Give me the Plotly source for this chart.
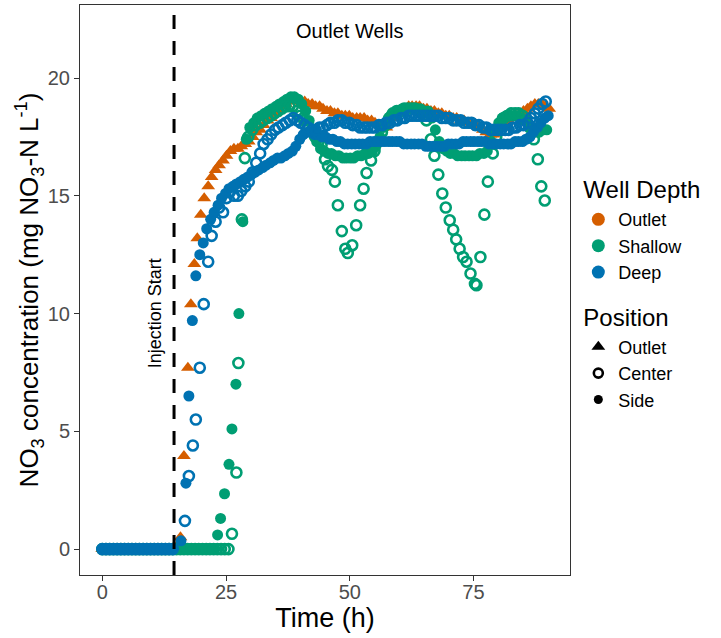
import plotly.graph_objects as go

# ---------------- data ----------------
PRE_T = [0, 0.75, 1.5, 2.25, 3, 3.75, 4.5, 5.25, 6, 6.75,
         7.5, 8.25, 9, 9.75, 10.5, 11.25, 12, 12.75, 13.5, 14.25]
PRE_Y = [0, 0, 0, 0, 0, 0, 0, 0, 0, 0,
         0, 0, 0, 0, 0, 0, 0, 0, 0, 0]
LAG1_T = [15, 15.75, 16.5, 17.25, 18, 18.75, 19.5, 20.25, 21, 21.75, 22.5]
LAG1_Y = [0, 0, 0, 0, 0, 0, 0, 0, 0, 0, 0]
LAG2_T = [23.25, 24, 24.75, 25.5]
LAG2_Y = [0, 0, 0, 0]

# Outlet depth / Outlet position (triangles)
OUTLET_T = [15.0, 15.8, 16.5, 17.3, 17.9, 18.6, 19.2, 19.9,
            20.6, 21.4, 22.1, 22.9, 23.6, 24.4, 25.1, 25.9, 26.6, 27.4,
            28.1, 28.9, 29.6, 30.4, 31.1, 31.9, 32.6, 33.4, 34.1, 34.9,
            35.6, 36.4, 37.1, 37.9, 38.6, 39.4, 40.1, 40.9, 41.6, 42.4,
            43.1, 43.9, 44.6, 45.4, 46.1, 46.9, 47.6, 48.4, 49.1, 49.9,
            50.6, 51.4, 52.1, 52.9, 53.6, 54.4, 55.1, 55.9, 56.6, 57.4,
            58.1, 58.9, 59.6, 60.4, 61.1, 61.9, 62.6, 63.4, 64.1, 64.9,
            65.6, 66.4, 67.1, 67.9, 68.6, 69.4, 70.1, 70.9, 71.6, 72.4,
            73.1, 73.9, 74.6, 75.4, 76.1, 76.9, 77.6, 78.4, 79.1, 79.9,
            80.6, 81.4, 82.1, 82.9, 83.6, 84.4, 85.1, 85.9, 86.6, 87.4,
            88.1, 88.9, 89.6, 90.3]
OUTLET_Y = [0.1, 0.5, 3.95, 7.7, 10.4, 12.1, 13.2, 14.2,
            14.9, 15.4, 15.8, 16.1, 16.3, 16.5, 16.7, 16.9, 17.0, 17.0,
            17.1, 17.2, 17.3, 17.5, 17.7, 17.8, 18.0, 18.2, 18.3, 18.5,
            18.6, 18.8, 18.9, 19.0, 19.1, 19.1, 19.0, 19.0, 18.9, 18.9,
            18.8, 18.8, 18.7, 18.6, 18.6, 18.5, 18.5, 18.4, 18.4, 18.4,
            18.3, 18.3, 18.3, 18.3, 18.2, 18.2, 18.1, 18.0, 17.9, 17.9,
            18.1, 18.3, 18.5, 18.6, 18.7, 18.8, 18.8, 18.8, 18.8, 18.7,
            18.7, 18.6, 18.6, 18.5, 18.5, 18.4, 18.4, 18.3, 18.3, 18.2,
            18.2, 18.1, 18.0, 18.0, 17.9, 17.8, 17.7, 17.6, 17.6, 17.7,
            17.9, 18.0, 18.2, 18.3, 18.4, 18.5, 18.6, 18.7, 18.8, 18.9,
            18.9, 18.9, 18.8, 18.7]

# Shallow depth / Side position (filled circles)
SHALLOW_SIDE_T = [23.3, 23.9, 24.7, 25.6, 26.2, 27.0, 27.6, 28.4, 29.1, 29.8,
                  30.6, 31.3, 32.1, 32.8, 33.6, 34.3, 35.1, 35.8, 36.6, 37.3,
                  38.1, 38.8, 39.6, 40.3, 41.1, 41.8, 42.6, 43.3, 44.1, 44.8,
                  45.6, 46.3, 47.1, 47.8, 48.6, 49.3, 50.1, 50.8, 51.6, 52.3,
                  53.1, 53.8, 54.6, 55.3, 56.1, 56.8, 57.6, 58.3, 59.1, 59.8,
                  60.6, 61.3, 62.1, 62.8, 63.6, 64.3, 65.1, 65.8, 66.6, 67.3,
                  68.1, 68.8, 69.6, 70.3, 71.1, 71.8, 72.6, 73.3, 74.1, 74.8,
                  75.6, 76.3, 77.1, 77.8, 78.6, 79.3, 80.1, 80.8, 81.6, 82.3,
                  83.1, 83.8, 84.6, 85.3, 86.1, 86.8, 87.6, 88.3, 89.1, 89.8]
SHALLOW_SIDE_Y = [0.6, 1.3, 2.35, 3.6, 5.1, 7.0, 10.0, 13.9, 17.4, 17.9,
                  18.1, 18.3, 18.4, 18.5, 18.6, 18.7, 18.8, 18.9, 19.0, 19.1,
                  19.2, 19.2, 19.1, 18.9, 18.6, 18.2, 17.7, 17.3, 17.0, 16.9,
                  16.8, 16.8, 16.7, 16.7, 16.6, 16.6, 16.6, 16.6, 16.7, 16.7,
                  16.8, 16.8, 16.9, 17.1, 17.5, 17.9, 18.2, 18.4, 18.5, 18.6,
                  18.7, 18.7, 18.7, 18.7, 18.7, 18.7, 18.6, 18.6, 18.3, 17.8,
                  17.3, 17.0, 16.9, 16.8, 16.8, 16.7, 16.7, 16.7, 16.7, 16.7,
                  16.7, 16.8, 16.8, 16.9, 17.3, 17.8, 18.1, 18.3, 18.4, 18.4,
                  18.4, 18.4, 18.3, 18.2, 18.0, 17.8, 17.7, 17.7, 17.8, 17.8]

# Shallow depth / Center position (open circles)
SHALLOW_CENTER_T = [26.2, 27.1, 27.5, 28.2, 28.8, 29.5, 30.3, 31.0, 31.8, 32.5,
                    33.3, 34.0, 34.8, 35.5, 36.3, 37.0, 37.8, 38.5, 39.3, 40.0,
                    40.8, 41.5, 42.3, 43.0, 43.7, 44.3, 45.0, 45.6, 46.4, 47.0,
                    47.6, 48.4, 49.1, 49.6, 50.5, 51.3, 52.1, 52.8, 53.4, 54.3,
                    55.0, 55.7, 56.5, 57.2, 58.0, 58.7, 59.5, 60.2, 61.0, 61.7,
                    62.5, 63.2, 64.0, 64.7, 65.5, 66.4, 67.1, 67.9, 68.7, 69.4,
                    70.2, 70.9, 71.5, 72.2, 72.9, 73.6, 74.4, 75.3, 75.6, 76.4,
                    77.2, 77.9, 78.9, 79.6, 80.4, 81.1, 81.9, 82.6, 83.4, 84.1,
                    84.9, 85.6, 86.4, 87.2, 88.0, 88.7, 89.4]
SHALLOW_CENTER_Y = [0.65, 3.25, 7.9, 14.0, 16.6, 17.5, 17.8, 18.0, 18.1, 18.2,
                    18.3, 18.4, 18.5, 18.6, 18.7, 18.8, 18.8, 18.8, 18.6, 18.4,
                    18.2, 18.0, 17.8, 17.5, 17.3, 17.15, 16.55, 16.26, 16.1, 15.6,
                    14.6, 13.5, 12.75, 12.57, 12.9, 13.75, 14.6, 15.3, 15.97, 16.5,
                    16.9, 17.3, 17.7, 18.0, 18.3, 18.5, 18.6, 18.6, 18.7, 18.7,
                    18.7, 18.7, 18.6, 18.5, 18.2, 17.4, 16.7, 15.9, 15.1, 14.5,
                    13.96, 13.56, 13.15, 12.75, 12.4, 12.2, 11.7, 11.26, 11.2, 12.4,
                    14.2, 15.6, 16.8, 17.5, 18.0, 18.3, 18.4, 18.5, 18.5, 18.5,
                    18.4, 18.2, 17.9, 17.4, 16.55, 15.4, 14.8]

# Deep depth / Side position (filled circles)
DEEP_SIDE_T = [15.9, 16.9, 17.5, 18.2, 18.9, 19.7, 20.4, 21.1, 21.9, 22.6,
               23.4, 24.1, 24.9, 25.6, 26.4, 27.1, 27.9, 28.6, 29.4, 30.1,
               30.9, 31.6, 32.4, 33.1, 33.9, 34.6, 35.4, 36.1, 36.9, 37.6,
               38.4, 39.1, 39.9, 40.6, 41.4, 42.1, 42.9, 43.6, 44.4, 45.1,
               45.9, 46.6, 47.4, 48.1, 48.9, 49.6, 50.4, 51.1, 51.9, 52.6,
               53.4, 54.1, 54.9, 55.6, 56.4, 57.1, 57.9, 58.6, 59.4, 60.1,
               60.9, 61.6, 62.4, 63.1, 63.9, 64.6, 65.4, 66.1, 66.9, 67.6,
               68.4, 69.1, 69.9, 70.6, 71.4, 72.1, 72.9, 73.6, 74.4, 75.1,
               75.9, 76.6, 77.4, 78.1, 78.9, 79.6, 80.4, 81.1, 81.9, 82.6,
               83.4, 84.1, 84.9, 85.6, 86.4, 87.1, 87.9, 88.6, 89.4, 90.1]
DEEP_SIDE_Y = [0.35, 2.8, 6.5, 9.7, 11.6, 12.5, 13.0, 13.6, 14.0, 14.3,
               14.6, 14.9, 15.1, 15.3, 15.4, 15.5, 15.6, 15.7, 15.8, 15.9,
               16.0, 16.1, 16.2, 16.3, 16.4, 16.5, 16.6, 16.6, 16.7, 16.8,
               16.9, 17.1, 17.4, 17.6, 17.7, 17.7, 17.6, 17.6, 17.5, 17.5,
               17.4, 17.4, 17.3, 17.3, 17.2, 17.2, 17.2, 17.2, 17.2, 17.2,
               17.2, 17.3, 17.3, 17.3, 17.3, 17.3, 17.3, 17.3, 17.3, 17.3,
               17.2, 17.2, 17.2, 17.2, 17.2, 17.2, 17.1, 17.1, 17.1, 17.1,
               17.1, 17.1, 17.2, 17.2, 17.2, 17.2, 17.3, 17.3, 17.3, 17.3,
               17.3, 17.3, 17.3, 17.2, 17.2, 17.2, 17.2, 17.2, 17.2, 17.2,
               17.3, 17.3, 17.3, 17.4, 17.5, 17.7, 17.9, 18.1, 18.3, 18.4]

# Deep depth / Center position (open circles)
DEEP_CENTER_T = [16.7, 17.5, 18.3, 18.9, 19.7, 20.5, 21.4, 22.1, 22.9, 23.6,
                 24.4, 25.1, 25.9, 26.6, 27.4, 28.1, 28.9, 29.6, 30.4, 31.1,
                 31.9, 32.6, 33.4, 34.1, 34.9, 35.6, 36.4, 37.1, 37.9, 38.6,
                 39.4, 40.1, 40.9, 41.6, 42.4, 43.1, 43.9, 44.6, 45.4, 46.1,
                 46.9, 47.6, 48.4, 49.1, 49.9, 50.6, 51.4, 52.1, 52.9, 53.6,
                 54.4, 55.1, 55.9, 56.6, 57.4, 58.1, 58.9, 59.6, 60.4, 61.1,
                 61.9, 62.6, 63.4, 64.1, 64.9, 65.6, 66.4, 67.1, 67.9, 68.6,
                 69.4, 70.1, 70.9, 71.6, 72.4, 73.1, 73.9, 74.6, 75.4, 76.1,
                 76.9, 77.6, 78.4, 79.1, 79.9, 80.6, 81.4, 82.1, 82.9, 83.6,
                 84.4, 85.1, 85.9, 86.6, 87.4, 88.1, 88.9, 89.6]
DEEP_CENTER_Y = [1.2, 3.1, 4.4, 5.5, 7.7, 10.4, 12.2, 13.3, 13.9, 14.5,
                 14.3, 14.9, 15.2, 15.0, 15.0, 15.2, 15.4, 15.6, 16.0, 16.4,
                 16.8, 17.2, 17.4, 17.6, 17.8, 17.9, 18.0, 18.1, 18.2, 18.3,
                 18.2, 18.1, 18.0, 17.9, 17.8, 17.8, 17.9, 17.9, 18.0, 18.1,
                 18.1, 18.2, 18.2, 18.1, 18.1, 18.0, 18.0, 17.9, 17.9, 17.9,
                 17.9, 17.9, 18.0, 18.0, 18.1, 18.1, 18.2, 18.2, 18.3, 18.3,
                 18.4, 18.4, 18.4, 18.4, 18.4, 18.4, 18.4, 18.4, 18.4, 18.3,
                 18.3, 18.3, 18.2, 18.2, 18.2, 18.1, 18.1, 18.1, 18.0, 18.0,
                 17.9, 17.9, 17.8, 17.8, 17.8, 17.8, 17.8, 17.8, 17.9, 17.9,
                 18.0, 18.0, 18.1, 18.3, 18.5, 18.7, 18.9, 19.0]

INJECTION_TIME = 14.5
X_TICKS = [0, 25, 50, 75]
Y_TICKS = [0, 5, 10, 15, 20]

DEPTH_NAMES = ["Outlet", "Shallow", "Deep"]
DEPTH_COLORS = {"Outlet": "#D55E00", "Shallow": "#009E73", "Deep": "#0072B2"}
POSITION_NAMES = ["Outlet", "Center", "Side"]

FONT = "Liberation Sans, Arial, sans-serif"


def pair(t, y):
    n = min(len(t), len(y))
    return t[:n], y[:n]


series = [
    ("Outlet", "Outlet", PRE_T + OUTLET_T, PRE_Y + OUTLET_Y),
    ("Shallow", "Side", PRE_T + LAG1_T + SHALLOW_SIDE_T, PRE_Y + LAG1_Y + SHALLOW_SIDE_Y),
    ("Shallow", "Center", PRE_T + LAG1_T + LAG2_T + SHALLOW_CENTER_T,
     PRE_Y + LAG1_Y + LAG2_Y + SHALLOW_CENTER_Y),
    ("Deep", "Side", PRE_T + DEEP_SIDE_T, PRE_Y + DEEP_SIDE_Y),
    ("Deep", "Center", PRE_T + DEEP_CENTER_T, PRE_Y + DEEP_CENTER_Y),
]

fig = go.Figure()

for depth, pos, t, y in series:
    t, y = pair(t, y)
    col = DEPTH_COLORS[depth]
    if pos == "Outlet":
        marker = dict(symbol="triangle-up", size=12, color=col, line=dict(width=0))
    elif pos == "Center":
        marker = dict(symbol="circle-open", size=10, color=col, line=dict(width=2.6, color=col))
    else:
        marker = dict(symbol="circle", size=11, color=col, line=dict(width=0))
    fig.add_trace(go.Scatter(x=t, y=y, mode="markers", marker=marker,
                             showlegend=False, hoverinfo="skip",
                             name=f"{depth} {pos}"))

# legend entries: Well Depth
for i, d in enumerate(DEPTH_NAMES):
    kw = {}
    if i == 0:
        kw["legendgrouptitle"] = dict(text="Well Depth", font=dict(size=24, color="black", family=FONT))
    fig.add_trace(go.Scatter(
        x=[None], y=[None], mode="markers", name=d,
        marker=dict(symbol="circle", size=13, color=DEPTH_COLORS[d]),
        legendgroup="depth", showlegend=True, **kw))

pos_markers = {
    "Outlet": dict(symbol="triangle-up", size=12, color="black"),
    "Center": dict(symbol="circle-open", size=9, color="black", line=dict(width=2.6, color="black")),
    "Side": dict(symbol="circle", size=9, color="black"),
}
for i, p in enumerate(POSITION_NAMES):
    kw = {}
    if i == 0:
        kw["legendgrouptitle"] = dict(text="Position", font=dict(size=24, color="black", family=FONT))
    fig.add_trace(go.Scatter(
        x=[None], y=[None], mode="markers", name=p,
        marker=pos_markers[p],
        legendgroup="position", showlegend=True, **kw))

fig.add_shape(type="line", x0=INJECTION_TIME, x1=INJECTION_TIME, y0=0, y1=1,
              xref="x", yref="paper", layer="above",
              line=dict(color="black", width=3, dash="14px,12px"))

fig.add_annotation(x=50, y=22, text="Outlet Wells", showarrow=False,
                   font=dict(size=20, color="black", family=FONT))
fig.add_annotation(x=10.6, y=10.0, text="Injection Start", showarrow=False, textangle=-90,
                   font=dict(size=18, color="black", family=FONT))

axis_common = dict(showgrid=False, zeroline=False, showline=True, mirror=True,
                   linecolor="#333333", linewidth=1, ticks="outside", ticklen=5,
                   tickcolor="#333333", tickwidth=1,
                   tickfont=dict(size=20, color="#4D4D4D", family=FONT))

fig.update_xaxes(range=[-4.5, 94.5], tickvals=X_TICKS, ticklabelstandoff=-6,
                 title=dict(text="Time (h)", font=dict(size=27, color="black", family=FONT), standoff=0),
                 **axis_common)
fig.update_yaxes(range=[-1.1, 23.1], tickvals=Y_TICKS,
                 title=dict(text="NO<sub>3</sub> concentration (mg NO<sub>3</sub>-N L<sup>-1</sup>)",
                            font=dict(size=26, color="black", family=FONT), standoff=0),
                 **axis_common)

fig.update_layout(
    width=721, height=638,
    margin=dict(l=80, r=151, t=5, b=63, autoexpand=False),
    plot_bgcolor="white", paper_bgcolor="white",
    font=dict(family=FONT, color="black"),
    legend=dict(x=1.017, xanchor="left", y=0.716, yanchor="top",
                font=dict(size=18, color="black", family=FONT),
                tracegroupgap=14, itemwidth=30, bgcolor="rgba(0,0,0,0)"),
)

fig.write_html("out.html", config={"displayModeBar": False},
               post_script="document.body.style.margin='0px';")
